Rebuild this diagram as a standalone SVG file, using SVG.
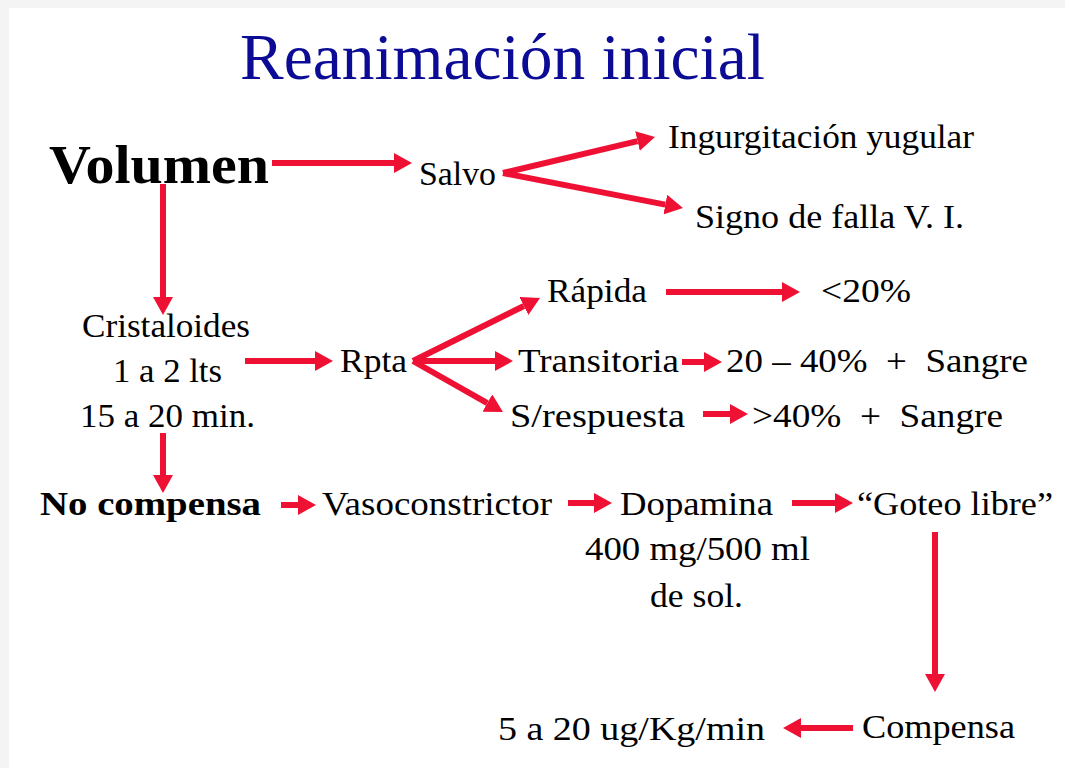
<svg xmlns="http://www.w3.org/2000/svg" width="1065" height="768" viewBox="0 0 1065 768">
<style>
text{font-family:'Liberation Serif','DejaVu Serif',serif;fill:#000;font-size:33px}
.title{fill:#0b0b96;font-size:66px}
.big{font-weight:bold;font-size:55px}
.bold{font-weight:bold;font-size:34px}
.c line{stroke:#EE1133;stroke-width:6;marker-end:url(#ah)}
</style>
<defs>
<marker id="ah" viewBox="0 -10 18 20" refX="0" refY="0" markerWidth="18" markerHeight="20" markerUnits="userSpaceOnUse" orient="auto">
<path d="M0,-10 L18,0 L0,10 z" fill="#EE1133"/>
</marker>
</defs>
<rect width="1065" height="768" fill="#f4f4f4"/>
<rect x="9" y="8" width="1056" height="760" fill="#fff"/>
<g font-family="Liberation Serif, DejaVu Serif, serif">
<g id="title"><text class="title" x="240" y="79" textLength="525" lengthAdjust="spacingAndGlyphs">Reanimación inicial</text></g>
<g id="volumen"><text class="big" x="49" y="183" textLength="220" lengthAdjust="spacingAndGlyphs">Volumen</text></g>
<g id="salvo"><text x="419" y="185" textLength="77" lengthAdjust="spacingAndGlyphs">Salvo</text></g>
<g id="ingurgitacion"><text x="668" y="148" textLength="306" lengthAdjust="spacingAndGlyphs">Ingurgitación yugular</text></g>
<g id="signo"><text x="695" y="228" textLength="269" lengthAdjust="spacingAndGlyphs">Signo de falla V. I.</text></g>
<g id="cristaloides">
<text x="82" y="337" textLength="168" lengthAdjust="spacingAndGlyphs">Cristaloides</text>
<text x="113" y="382" textLength="109" lengthAdjust="spacingAndGlyphs">1 a 2 lts</text>
<text x="80" y="427" textLength="175" lengthAdjust="spacingAndGlyphs">15 a 20 min.</text>
</g>
<g id="rpta"><text x="340" y="372" textLength="67" lengthAdjust="spacingAndGlyphs">Rpta</text></g>
<g id="rapida"><text x="547" y="302" textLength="100" lengthAdjust="spacingAndGlyphs">Rápida</text></g>
<g id="menos20"><text x="821" y="302" textLength="90" lengthAdjust="spacingAndGlyphs">&lt;20%</text></g>
<g id="transitoria"><text x="518" y="372" textLength="161" lengthAdjust="spacingAndGlyphs">Transitoria</text></g>
<g id="r20a40"><text x="726" y="372" textLength="302" lengthAdjust="spacingAndGlyphs" xml:space="preserve">20 – 40%  +  Sangre</text></g>
<g id="srespuesta"><text x="510" y="427" textLength="175" lengthAdjust="spacingAndGlyphs">S/respuesta</text></g>
<g id="mas40"><text x="752" y="427" textLength="251" lengthAdjust="spacingAndGlyphs" xml:space="preserve">&gt;40%  +  Sangre</text></g>
<g id="nocompensa"><text class="bold" x="40" y="515" textLength="221" lengthAdjust="spacingAndGlyphs">No compensa</text></g>
<g id="vasoconstrictor"><text x="322" y="515" textLength="230" lengthAdjust="spacingAndGlyphs">Vasoconstrictor</text></g>
<g id="dopamina">
<text x="620" y="515" textLength="153" lengthAdjust="spacingAndGlyphs">Dopamina</text>
<text x="585" y="560" textLength="225" lengthAdjust="spacingAndGlyphs">400 mg/500 ml</text>
<text x="650" y="607" textLength="93" lengthAdjust="spacingAndGlyphs">de sol.</text>
</g>
<g id="goteo"><text x="857" y="515" textLength="196" lengthAdjust="spacingAndGlyphs">“Goteo libre”</text></g>
<g id="compensa"><text x="862" y="738" textLength="153" lengthAdjust="spacingAndGlyphs">Compensa</text></g>
<g id="dosis"><text x="498" y="740" textLength="267" lengthAdjust="spacingAndGlyphs">5 a 20 ug/Kg/min</text></g>
</g>
<g id="connectors" class="c">
<line x1="272" y1="163" x2="394" y2="163"/>
<line x1="163" y1="184" x2="163" y2="297"/>
<line x1="503" y1="173" x2="637.5" y2="141.1"/>
<line x1="503" y1="173" x2="665.3" y2="204.6"/>
<line x1="245" y1="361" x2="315" y2="361"/>
<line x1="413" y1="361" x2="523.9" y2="306"/>
<line x1="413" y1="361" x2="495" y2="361"/>
<line x1="413" y1="361" x2="487.3" y2="403.1"/>
<line x1="666" y1="292" x2="782" y2="292"/>
<line x1="682" y1="362" x2="704" y2="362"/>
<line x1="703" y1="414" x2="730" y2="414"/>
<line x1="163" y1="433" x2="163" y2="475"/>
<line x1="281" y1="505" x2="298" y2="505"/>
<line x1="568" y1="503" x2="594" y2="503"/>
<line x1="792" y1="503" x2="835" y2="503"/>
<line x1="935" y1="532" x2="935" y2="674"/>
<line x1="853" y1="728" x2="801" y2="728"/>
</g>
</svg>
